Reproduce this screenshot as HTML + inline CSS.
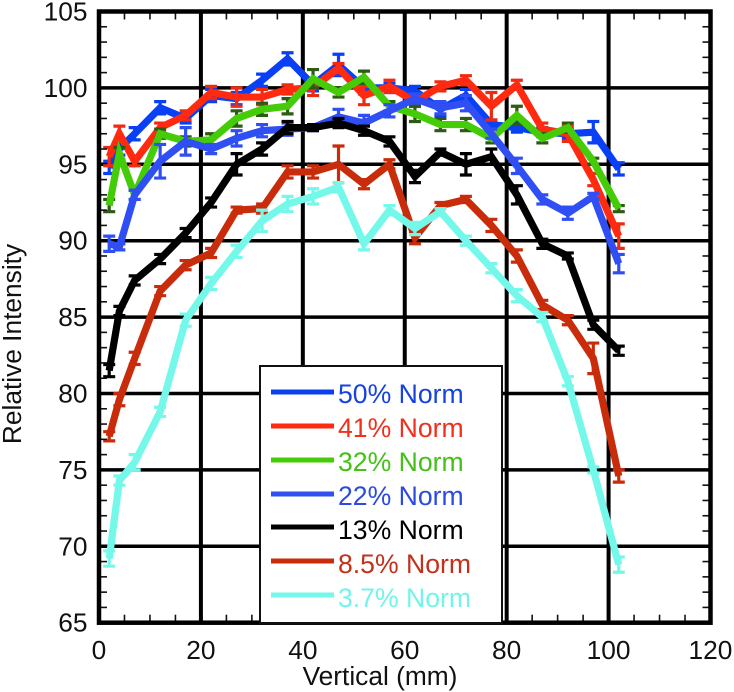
<!DOCTYPE html>
<html lang="en">
<head>
<meta charset="utf-8">
<title>Relative Intensity vs Vertical</title>
<style>
html,body{margin:0;padding:0;background:#fff;width:734px;height:692px;overflow:hidden}
svg{display:block;font-family:"Liberation Sans",Arial,sans-serif}
</style>
</head>
<body>
<svg id="chart" width="734" height="692" viewBox="0 0 734 692" xmlns="http://www.w3.org/2000/svg">
  <g id="grid"></g>
  <g id="series"></g>
  <g id="frame"></g>
  <g id="labels" font-size="26.3" fill="#111"></g>
  <text x="380" y="685" font-size="26.3" text-anchor="middle" fill="#111">Vertical (mm)</text>
  <text transform="translate(21,344) rotate(-90)" font-size="26.3" text-anchor="middle" fill="#111">Relative Intensity</text>
  <g font-size="26.6">
    <rect x="260" y="366" width="242" height="257" fill="#fff" stroke="#111" stroke-width="2"/>
    <line x1="271" x2="334" y1="392" y2="392" stroke="#0a40f0" stroke-width="5"/>
    <text x="338" y="403" fill="#1443e0">50% Norm</text>
    <line x1="271" x2="334" y1="426" y2="426" stroke="#ff2a10" stroke-width="5"/>
    <text x="338" y="437" fill="#f0301c">41% Norm</text>
    <line x1="271" x2="334" y1="460" y2="460" stroke="#44cc08" stroke-width="5"/>
    <text x="338" y="471" fill="#44c018">32% Norm</text>
    <line x1="271" x2="334" y1="494" y2="494" stroke="#2f4ff0" stroke-width="5"/>
    <text x="338" y="505" fill="#2a4ae0">22% Norm</text>
    <line x1="271" x2="334" y1="527" y2="527" stroke="#000" stroke-width="5"/>
    <text x="338" y="539" fill="#000">13% Norm</text>
    <line x1="271" x2="334" y1="561" y2="561" stroke="#c92c0a" stroke-width="5"/>
    <text x="338" y="573" fill="#c4301a">8.5% Norm</text>
    <line x1="271" x2="334" y1="595" y2="595" stroke="#74f8ea" stroke-width="5"/>
    <text x="338" y="607" fill="#74f4e8">3.7% Norm</text>
  </g>
</svg>
<script>
const positions = [2,4,7,12,17,22,27,32,37,42,47,52,57,62,67,72,77,82,87,92,97,102];
const values50 = [94.8,96,97,98.7,98,99.5,99.3,100.5,101.9,100.2,101.5,100,100,99.8,98.6,99.5,97.6,97.4,97.1,97,97.1,94.7];
const errors50 = [.4,.4,.4,.4,.3,.4,.4,.4,.4,.4,.7,.4,.3,.3,.4,.4,.3,.3,.3,.3,.7,.4];
const values41 = [95.5,97,95.2,97.4,98.2,99.7,99.4,99.4,99.9,100,101.3,99.5,100.1,99.1,100.1,100.5,98.8,100.2,97.3,97,94,90.3];
const errors41 = [.6,.5,.3,.3,.3,.4,.6,.5,.3,.5,.3,.6,.4,.3,.3,.3,.9,.3,.4,.5,.4,.8];
const values32 = [92.3,95.7,93,97,96.5,96.6,98,98.6,98.8,100.6,99.7,100.7,98.8,98.3,97.6,97.6,96.7,98.2,96.7,97.4,95.2,92.1];
const errors32 = [.4,.4,.3,.3,.3,.4,.5,.4,.5,.6,.3,.4,.3,.5,.4,.4,.3,.6,.3,.3,.2,.2];
const values22 = [89.8,89.6,93,95.2,96.5,96,96.7,97.2,97.3,97.4,98.1,97.7,98.5,99.3,98.7,99,97,94.9,92.7,91.8,92.9,88.5];
const errors22 = [.5,.2,.3,1.1,.9,.3,.5,.4,.4,.2,.5,.5,.4,.3,.4,.5,.3,.5,.3,.4,.2,.6];
const values13 = [81.5,85.4,87.4,88.8,90.5,92.5,95,96,97.4,97.4,97.7,97.2,96.5,94.2,95.8,95,95.5,93,89.8,89,84.5,82.8];
const errors13 = [.4,.3,.3,.3,.3,.3,.7,.4,.4,.2,.3,.3,.3,.4,.2,.7,.5,.6,.3,.2,.3,.3];
const values85 = [77.2,79.6,82.3,86.7,88.4,89.2,92,92.1,94.5,94.5,95,93.7,95,90.2,92.3,92.7,91,89,85.8,84.8,82.3,74.6];
const errors85 = [.3,.4,.4,.3,.3,.3,.2,.3,.4,.4,1.2,.3,.3,.4,.2,.2,.4,.4,.3,.3,1,.4];
const values37 = [69.2,74.3,75.5,78.8,84.8,87.2,89.3,91.3,92.4,92.9,93.5,89.8,92,90.8,91.9,90,88.2,86.4,85,80.8,75,68.8];
const errors37 = [.5,.3,.5,.3,.4,.4,.4,.7,.5,.5,.3,.4,.3,.4,.2,.3,.3,.4,.3,.3,.2,.5];

const seriesLabels = ['50','41','32','22','13','8-5','3-7'];
const seriesValues = [values50,values41,values32,values22,values13,values85,values37];
const seriesErrors = [errors50,errors41,errors32,errors22,errors13,errors85,errors37];
const lineColors = ['#0a40f5','#ff2a10','#44cc08','#2f4ff5','#000000','#c92c0a','#74f8ea'];
const capColors = ['#0a40f5','#f02a10','#2d5a14','#2f4ff5','#000000','#c92c0a','#74f8ea'];

const xTicks = [0,20,40,60,80,100,120];
const yTicks = [65,70,75,80,85,90,95,100,105];

const NS = 'http://www.w3.org/2000/svg';
const L = 99, R = 710.5, T = 11.5, B = 622.7;
const xMin = 0, xMax = 120, yMin = 65, yMax = 105;
function sx(v){ return L + (v - xMin) / (xMax - xMin) * (R - L); }
function sy(v){ return B - (v - yMin) / (yMax - yMin) * (B - T); }
function mk(tag, parent, attrs){
  const el = document.createElementNS(NS, tag);
  for (const k in attrs) el.setAttribute(k, attrs[k]);
  parent.appendChild(el);
  return el;
}
const grid = document.getElementById('grid');
const frame = document.getElementById('frame');
const labels = document.getElementById('labels');
const seriesG = document.getElementById('series');

xTicks.forEach(function(t){
  if (t !== xMin && t !== xMax) {
    const g = mk('line', grid, {x1:sx(t),x2:sx(t),y1:T,y2:B,stroke:'#000','stroke-width':4});
    
    
  }
  const lb = mk('text', labels, {x:sx(t),y:659,'text-anchor':'middle'});
  
  
  lb.textContent = t;
});
yTicks.forEach(function(t){
  if (t !== yMin && t !== yMax) {
    const g = mk('line', grid, {x1:L,x2:R,y1:sy(t),y2:sy(t),stroke:'#000','stroke-width':3.5});
    
    
  }
  const lb = mk('text', labels, {x:87.5,y:sy(t)+9,'text-anchor':'end'});
  
  
  lb.textContent = t;
});
for (let v = xMin; v <= xMax; v += 5) {
  if (v % 20 === 0) continue;
  [[B,B-8],[T,T+8]].forEach(function(p){
    const m = mk('line', frame, {x1:sx(v),x2:sx(v),y1:p[0],y2:p[1],stroke:'#111','stroke-width':1.6});
    
    
  });
}
for (let v = yMin; v <= yMax; v += 1) {
  if (v % 5 === 0) continue;
  [[L,L+8],[R,R-8]].forEach(function(p){
    const m = mk('line', frame, {x1:p[0],x2:p[1],y1:sy(v),y2:sy(v),stroke:'#111','stroke-width':1.6});
    
    
  });
}
const box = mk('rect', frame, {x:L,y:T,width:R-L,height:B-T,fill:'none',stroke:'#000','stroke-width':4.5});



seriesValues.forEach(function(vals, i){
  const g = mk('g', seriesG, {});
  
  
  vals.forEach(function(v, j){
    const e = seriesErrors[i][j], x = sx(positions[j]);
    const d = 'M' + x + ' ' + sy(v-e) + 'V' + sy(v+e) +
      'M' + (x-6) + ' ' + sy(v-e) + 'h12M' + (x-6) + ' ' + sy(v+e) + 'h12';
    const bar = mk('path', g, {d:d,fill:'none',stroke:capColors[i],'stroke-width':3.2});
    
    
  });
  const pts = vals.map(function(v, j){ return sx(positions[j]) + ',' + sy(v); }).join(' ');
  const line = mk('polyline', g, {points:pts,fill:'none',stroke:lineColors[i],'stroke-width':7.2,'stroke-linejoin':'miter'});
  
  
});
</script>
</body>
</html>
